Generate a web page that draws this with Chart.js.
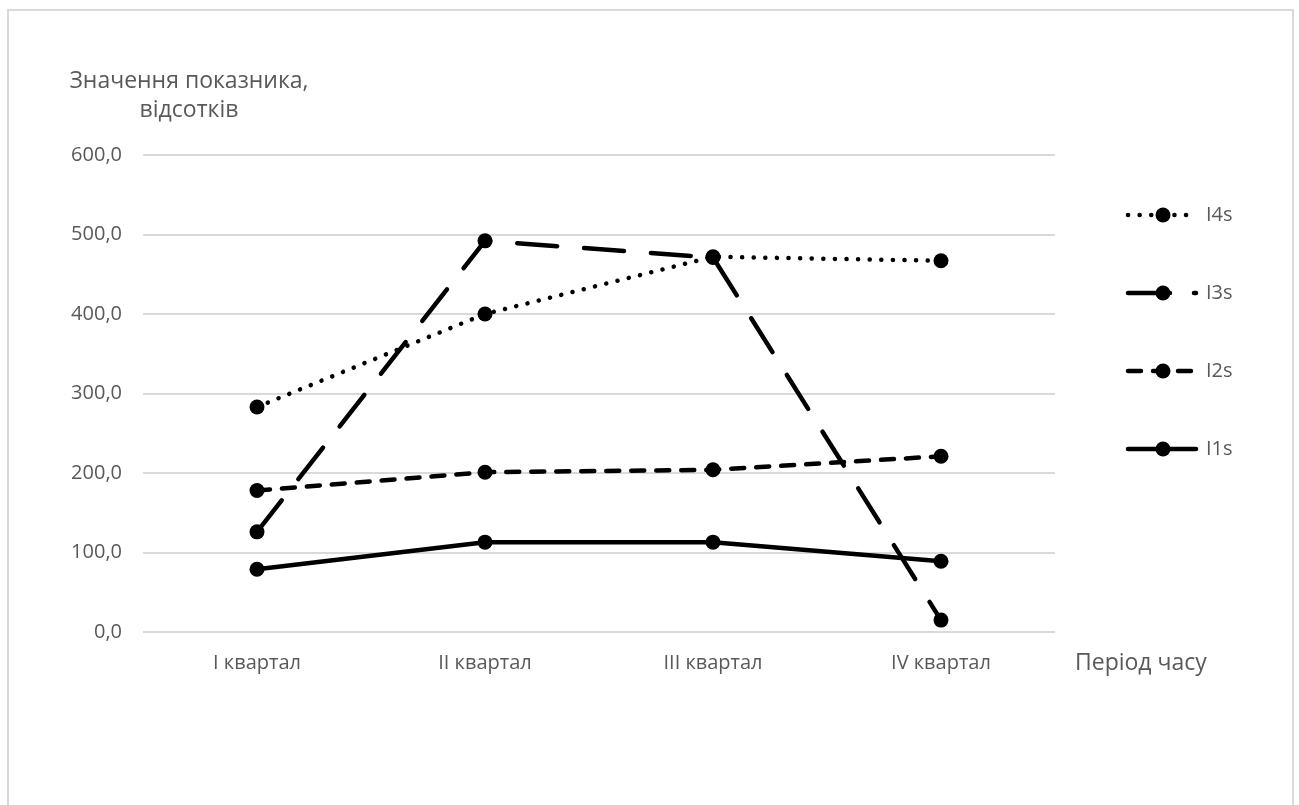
<!DOCTYPE html>
<html>
<head>
<meta charset="utf-8">
<script src="https://cdn.jsdelivr.net/npm/chart.js@4.4.1/dist/chart.umd.min.js"></script>
<style>
  html, body { margin: 0; padding: 0; background: #fff; }
  #wrap { position: relative; width: 1299px; height: 805px; overflow: hidden; }
  #frame { position: absolute; left: 7px; top: 9px; width: 1283px; height: 820px; border: 2px solid #d9d9d9; border-bottom: none; }
  #c { position: absolute; left: 0; top: 0; }
</style>
</head>
<body>
<div id="wrap">
  <div id="frame"></div>
  <canvas id="c" width="1299" height="805"></canvas>
</div>
<script>
const quarters = ['I квартал', 'II квартал', 'III квартал', 'IV квартал'];
const i1s = [79, 113, 113, 89];
const i2s = [178, 201, 204, 221];
const i3s = [126, 492, 471, 15];
const i4s = [283, 400, 472, 467];
const yTitle = ['Значення показника,', 'відсотків'];
const xTitle = 'Період часу';

const FONT = '"Open Sans", "Noto Sans", sans-serif';
const GREY = '#595959';

function series(label, data, dash) {
    return {
        label, data,
        borderColor: '#000', backgroundColor: '#000',
        borderWidth: 4.5, borderDash: dash, borderCapStyle: 'round', borderJoinStyle: 'round',
        pointRadius: 7.5, pointHoverRadius: 7.5, pointBorderWidth: 0,
        tension: 0,
    };
}

// Excel-style legend on the right: line sample with marker, I4s on top
const sideLegend = {
    id: 'sideLegend',
    afterDraw(chart) {
        const ctx = chart.ctx;
        const items = chart.data.datasets.slice().reverse();
        ctx.save();
        items.forEach((ds, i) => {
            const y = 215 + i * 78;
            ctx.strokeStyle = '#000';
            ctx.lineWidth = ds.borderWidth;
            ctx.lineCap = 'round';
            ctx.setLineDash(ds.label === 'I3s' ? [42, 24] : (ds.borderDash || []));
            ctx.beginPath();
            ctx.moveTo(1128, y);
            ctx.lineTo(1196, y);
            ctx.stroke();
            ctx.setLineDash([]);
            ctx.fillStyle = '#000';
            ctx.beginPath();
            ctx.arc(1163, y, 7.5, 0, Math.PI * 2);
            ctx.fill();
            ctx.fillStyle = GREY;
            ctx.font = '20px ' + FONT;
            ctx.textAlign = 'left';
            ctx.textBaseline = 'middle';
            ctx.fillText(ds.label, 1206, y);
        });

        // axis titles
        const a = chart.chartArea;
        ctx.font = '23px ' + FONT;
        ctx.fillStyle = GREY;
        ctx.textAlign = 'center';
        ctx.fillText(yTitle[0], 189, 81);
        ctx.fillText(yTitle[1], 189, 110);
        ctx.textAlign = 'left';
        ctx.fillText(xTitle, a.right + 20, 663);
        ctx.restore();
    },
};

new Chart(document.getElementById('c'), {
    type: 'line',
    data: {
        labels: quarters,
        datasets: [
            series('I1s', i1s, []),
            series('I2s', i2s, [13, 12]),
            series('I3s', i3s, [40, 27]),
            series('I4s', i4s, [0.1, 11.5]),
        ],
    },
    options: {
        responsive: false, animation: false,
        layout: { padding: { left: 0, top: 155, right: 244, bottom: 0 } },
        plugins: { legend: { display: false }, tooltip: { enabled: false } },
        scales: {
            x: {
                offset: true,
                grid: { display: false, drawTicks: false },
                border: { display: false },
                ticks: { color: GREY, font: { family: FONT, size: 20 }, padding: 19 },
                afterFit: (s) => { s.height = 173; },
            },
            y: {
                min: 0, max: 600,
                grid: { color: '#d9d9d9', lineWidth: 2, drawTicks: false },
                border: { display: false },
                ticks: {
                    stepSize: 100, color: GREY, font: { family: FONT, size: 20 }, padding: 21,
                    callback: (v) => v.toFixed(1).replace('.', ','),
                },
                afterFit: (s) => { s.width = 143; },
            },
        },
    },
    plugins: [sideLegend],
});
</script>
</body>
</html>
